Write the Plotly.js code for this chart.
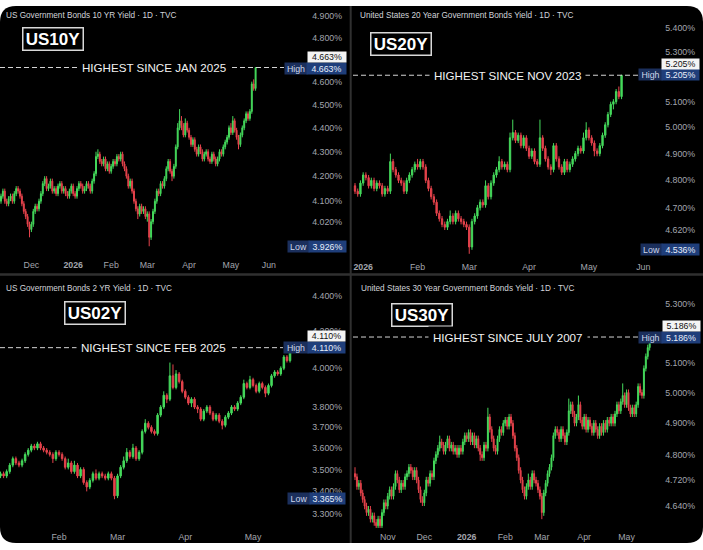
<!DOCTYPE html>
<html><head><meta charset="utf-8">
<script src="https://cdn.plot.ly/plotly-3.0.1.min.js"></script>
<style>html,body{margin:0;padding:0;background:#fff;}#chart{width:703px;height:550px;}</style>
</head><body><div id="chart"></div>
<script>
// ---------------- DATA ----------------
// US10Y (daily, from 2025-11-06)
const tl_start = '2025-11-06';
const tl_open = [4.10,4.12,4.14,4.10,4.09,4.11,4.12,4.10,4.13,4.15,4.14,4.12,4.09,4.06,4.04,4.01,3.99,4.01,4.06,4.08,4.07,4.10,4.13,4.17,4.19,4.15,4.16,4.18,4.14,4.15,4.13,4.16,4.17,4.14,4.15,4.13,4.12,4.14,4.16,4.13,4.12,4.15,4.17,4.16,4.14,4.15,4.17,4.16,4.14,4.18,4.21,4.28,4.29,4.26,4.25,4.27,4.23,4.25,4.22,4.24,4.26,4.25,4.28,4.27,4.29,4.25,4.23,4.20,4.16,4.18,4.14,4.10,4.07,4.05,4.08,4.06,4.07,4.04,4.05,3.96,4.02,4.06,4.10,4.14,4.13,4.17,4.16,4.19,4.23,4.26,4.22,4.20,4.24,4.32,4.40,4.43,4.41,4.37,4.42,4.39,4.36,4.33,4.35,4.31,4.29,4.32,4.30,4.27,4.29,4.30,4.27,4.26,4.29,4.27,4.25,4.27,4.30,4.29,4.32,4.34,4.36,4.40,4.38,4.43,4.39,4.36,4.33,4.37,4.40,4.43,4.46,4.44,4.47,4.59,4.57];
const tl_high = [4.13,4.15,4.15,4.11,4.12,4.13,4.13,4.14,4.16,4.16,4.15,4.13,4.10,4.07,4.05,4.02,4.02,4.07,4.09,4.09,4.11,4.14,4.18,4.20,4.20,4.17,4.19,4.19,4.16,4.16,4.17,4.18,4.18,4.16,4.16,4.14,4.15,4.17,4.17,4.14,4.16,4.18,4.18,4.17,4.16,4.18,4.18,4.17,4.19,4.22,4.30,4.31,4.30,4.27,4.28,4.28,4.26,4.26,4.25,4.27,4.27,4.29,4.29,4.30,4.30,4.26,4.24,4.21,4.19,4.19,4.15,4.11,4.08,4.09,4.09,4.08,4.08,4.06,4.06,4.03,4.07,4.11,4.15,4.15,4.18,4.18,4.20,4.24,4.27,4.27,4.23,4.25,4.33,4.42,4.48,4.45,4.42,4.44,4.43,4.40,4.37,4.36,4.36,4.32,4.33,4.33,4.31,4.30,4.31,4.31,4.28,4.30,4.30,4.28,4.28,4.31,4.31,4.33,4.35,4.37,4.41,4.42,4.45,4.44,4.40,4.37,4.38,4.41,4.44,4.47,4.47,4.48,4.60,4.61,4.663];
const tl_low = [4.09,4.11,4.09,4.08,4.08,4.10,4.09,4.09,4.12,4.13,4.11,4.08,4.05,4.03,4.00,3.96,3.98,4.00,4.05,4.06,4.06,4.09,4.12,4.16,4.14,4.14,4.15,4.13,4.13,4.12,4.12,4.15,4.13,4.13,4.12,4.11,4.11,4.13,4.12,4.11,4.11,4.14,4.15,4.13,4.13,4.14,4.15,4.13,4.13,4.17,4.20,4.27,4.25,4.24,4.24,4.22,4.22,4.21,4.21,4.23,4.24,4.24,4.26,4.26,4.24,4.22,4.19,4.15,4.15,4.13,4.09,4.06,4.03,4.04,4.05,4.05,4.03,4.02,3.926,3.95,4.01,4.05,4.09,4.12,4.12,4.15,4.15,4.18,4.22,4.21,4.18,4.19,4.23,4.31,4.39,4.39,4.36,4.36,4.38,4.35,4.32,4.32,4.30,4.28,4.28,4.29,4.26,4.26,4.28,4.26,4.25,4.25,4.26,4.24,4.24,4.26,4.28,4.28,4.31,4.33,4.35,4.37,4.37,4.38,4.35,4.31,4.32,4.36,4.39,4.42,4.43,4.43,4.46,4.56,4.56];
const tl_close = [4.12,4.14,4.10,4.09,4.11,4.12,4.10,4.13,4.15,4.14,4.12,4.09,4.06,4.04,4.01,3.99,4.01,4.06,4.08,4.07,4.10,4.13,4.17,4.19,4.15,4.16,4.18,4.14,4.15,4.13,4.16,4.17,4.14,4.15,4.13,4.12,4.14,4.16,4.13,4.12,4.15,4.17,4.16,4.14,4.15,4.17,4.16,4.14,4.18,4.21,4.28,4.29,4.26,4.25,4.27,4.23,4.25,4.22,4.24,4.26,4.25,4.28,4.27,4.29,4.25,4.23,4.20,4.16,4.18,4.14,4.10,4.07,4.05,4.08,4.06,4.07,4.04,4.05,3.96,4.02,4.06,4.10,4.14,4.13,4.17,4.16,4.19,4.23,4.26,4.22,4.20,4.24,4.32,4.40,4.43,4.41,4.37,4.42,4.39,4.36,4.33,4.35,4.31,4.29,4.32,4.30,4.27,4.29,4.30,4.27,4.26,4.29,4.27,4.25,4.27,4.30,4.29,4.32,4.34,4.36,4.40,4.38,4.43,4.39,4.36,4.33,4.37,4.40,4.43,4.46,4.44,4.47,4.59,4.57,4.663];
const tl_tick_dates = ['2025-12-01','2026-01-02','2026-02-02','2026-03-02','2026-04-01','2026-05-01','2026-06-01'];
const tl_tick_text = ['Dec','<b>2026</b>','Feb','Mar','Apr','May','Jun'];
const tl_y_ticks = [4.9,4.8,4.6,4.5,4.4,4.3,4.2,4.1,4.02];

// US20Y (daily, from 2025-12-29)
const tr_start = '2025-12-29';
const tr_open = [4.78,4.76,4.75,4.79,4.82,4.81,4.78,4.80,4.77,4.79,4.78,4.75,4.77,4.76,4.87,4.84,4.82,4.80,4.79,4.76,4.80,4.82,4.84,4.86,4.85,4.87,4.85,4.80,4.77,4.74,4.72,4.68,4.66,4.64,4.63,4.65,4.67,4.65,4.68,4.66,4.65,4.64,4.63,4.56,4.65,4.67,4.70,4.72,4.71,4.78,4.74,4.79,4.82,4.84,4.87,4.85,4.86,4.84,4.96,4.98,4.95,4.97,4.93,4.96,4.92,4.89,4.91,4.87,4.86,4.96,4.92,4.88,4.85,4.84,4.93,4.88,4.85,4.83,4.87,4.84,4.86,4.88,4.90,4.92,4.91,4.96,4.99,4.96,4.94,4.91,4.90,4.93,4.97,5.01,5.05,5.09,5.10,5.14,5.12];
const tr_high = [4.79,4.77,4.80,4.83,4.83,4.82,4.81,4.81,4.80,4.80,4.79,4.78,4.78,4.90,4.88,4.85,4.83,4.81,4.80,4.81,4.83,4.85,4.87,4.88,4.88,4.88,4.86,4.81,4.78,4.75,4.73,4.69,4.67,4.65,4.66,4.69,4.68,4.69,4.69,4.67,4.66,4.65,4.64,4.66,4.68,4.71,4.73,4.73,4.80,4.79,4.80,4.83,4.85,4.89,4.88,4.87,4.87,4.98,5.03,4.99,4.98,4.98,4.97,4.97,4.93,4.92,4.92,4.88,5.03,4.97,4.93,4.89,4.86,4.94,4.94,4.89,4.86,4.88,4.88,4.87,4.89,4.91,4.93,4.93,4.98,5.02,5.00,4.97,4.95,4.92,4.94,4.98,5.02,5.06,5.10,5.11,5.15,5.16,5.205];
const tr_low = [4.75,4.74,4.74,4.78,4.80,4.77,4.77,4.76,4.76,4.77,4.74,4.74,4.75,4.75,4.83,4.81,4.79,4.78,4.75,4.75,4.79,4.81,4.83,4.84,4.84,4.84,4.79,4.76,4.73,4.71,4.67,4.65,4.63,4.62,4.62,4.64,4.64,4.64,4.65,4.64,4.63,4.62,4.536,4.55,4.64,4.66,4.69,4.70,4.70,4.73,4.73,4.78,4.81,4.83,4.84,4.84,4.83,4.83,4.95,4.94,4.94,4.92,4.92,4.91,4.88,4.88,4.86,4.85,4.85,4.91,4.87,4.84,4.82,4.83,4.87,4.84,4.82,4.82,4.83,4.83,4.85,4.87,4.89,4.90,4.90,4.95,4.95,4.93,4.89,4.89,4.89,4.92,4.96,5.00,5.04,5.07,5.09,5.11,5.11];
const tr_close = [4.76,4.75,4.79,4.82,4.81,4.78,4.80,4.77,4.79,4.78,4.75,4.77,4.76,4.87,4.84,4.82,4.80,4.79,4.76,4.80,4.82,4.84,4.86,4.85,4.87,4.85,4.80,4.77,4.74,4.72,4.68,4.66,4.64,4.63,4.65,4.67,4.65,4.68,4.66,4.65,4.64,4.63,4.56,4.65,4.67,4.70,4.72,4.71,4.78,4.74,4.79,4.82,4.84,4.87,4.85,4.86,4.84,4.96,4.98,4.95,4.97,4.93,4.96,4.92,4.89,4.91,4.87,4.86,4.96,4.92,4.88,4.85,4.84,4.93,4.88,4.85,4.83,4.87,4.84,4.86,4.88,4.90,4.92,4.91,4.96,4.99,4.96,4.94,4.91,4.90,4.93,4.97,5.01,5.05,5.09,5.10,5.14,5.12,5.205];
const tr_tick_dates = ['2026-01-02','2026-02-02','2026-03-02','2026-04-01','2026-05-01','2026-06-01'];
const tr_tick_text = ['<b>2026</b>','Feb','Mar','Apr','May','Jun'];
const tr_y_ticks = [5.4,5.3,5.1,5.0,4.9,4.8,4.7,4.62];

// US02Y (daily, from 2026-01-05)
const bl_start = '2026-01-05';
const bl_open = [3.47,3.48,3.47,3.49,3.52,3.55,3.53,3.52,3.54,3.57,3.59,3.61,3.60,3.62,3.60,3.59,3.58,3.57,3.55,3.58,3.57,3.55,3.51,3.53,3.49,3.52,3.47,3.50,3.44,3.42,3.45,3.48,3.46,3.48,3.47,3.46,3.48,3.46,3.38,3.47,3.51,3.54,3.58,3.56,3.60,3.55,3.58,3.68,3.72,3.70,3.68,3.67,3.76,3.80,3.86,3.84,3.96,3.90,3.97,3.93,3.88,3.85,3.82,3.84,3.80,3.79,3.74,3.78,3.80,3.77,3.74,3.76,3.73,3.71,3.75,3.77,3.80,3.79,3.82,3.85,3.92,3.90,3.94,3.91,3.88,3.92,3.90,3.87,3.91,3.96,3.98,3.97,4.00,4.06,4.04];
const bl_high = [3.49,3.49,3.50,3.53,3.56,3.56,3.54,3.55,3.58,3.60,3.62,3.62,3.63,3.63,3.61,3.60,3.59,3.58,3.59,3.59,3.58,3.56,3.55,3.54,3.54,3.53,3.51,3.51,3.45,3.46,3.49,3.50,3.49,3.49,3.48,3.49,3.49,3.47,3.48,3.52,3.56,3.60,3.59,3.62,3.61,3.59,3.69,3.74,3.73,3.71,3.69,3.77,3.81,3.88,3.87,4.03,4.02,3.99,3.98,3.94,3.89,3.86,3.85,3.85,3.81,3.80,3.79,3.81,3.81,3.78,3.77,3.77,3.74,3.76,3.78,3.81,3.81,3.83,3.86,3.94,3.93,3.96,3.95,3.92,3.93,3.93,3.91,3.92,3.97,3.99,3.99,4.01,4.07,4.07,4.11];
const bl_low = [3.46,3.46,3.46,3.48,3.51,3.52,3.51,3.51,3.53,3.56,3.58,3.59,3.59,3.59,3.58,3.57,3.56,3.53,3.54,3.56,3.54,3.50,3.50,3.48,3.48,3.46,3.46,3.43,3.40,3.41,3.44,3.45,3.45,3.46,3.45,3.45,3.45,3.365,3.37,3.46,3.50,3.53,3.55,3.55,3.54,3.54,3.57,3.67,3.69,3.67,3.66,3.66,3.75,3.79,3.82,3.83,3.89,3.89,3.92,3.87,3.84,3.81,3.80,3.79,3.77,3.73,3.73,3.77,3.76,3.73,3.73,3.72,3.69,3.70,3.74,3.76,3.78,3.78,3.81,3.84,3.89,3.89,3.90,3.87,3.87,3.89,3.85,3.86,3.90,3.95,3.96,3.96,3.99,4.03,4.03];
const bl_close = [3.48,3.47,3.49,3.52,3.55,3.53,3.52,3.54,3.57,3.59,3.61,3.60,3.62,3.60,3.59,3.58,3.57,3.55,3.58,3.57,3.55,3.51,3.53,3.49,3.52,3.47,3.50,3.44,3.42,3.45,3.48,3.46,3.48,3.47,3.46,3.48,3.46,3.38,3.47,3.51,3.54,3.58,3.56,3.60,3.55,3.58,3.68,3.72,3.70,3.68,3.67,3.76,3.80,3.86,3.84,3.96,3.90,3.97,3.93,3.88,3.85,3.82,3.84,3.80,3.79,3.74,3.78,3.80,3.77,3.74,3.76,3.73,3.71,3.75,3.77,3.80,3.79,3.82,3.85,3.92,3.90,3.94,3.91,3.88,3.92,3.90,3.87,3.91,3.96,3.98,3.97,4.00,4.06,4.04,4.11];
const bl_tick_dates = ['2026-02-02','2026-03-02','2026-04-01','2026-05-01'];
const bl_tick_text = ['Feb','Mar','Apr','May'];
const bl_y_ticks = [4.4,4.2,4.0,3.8,3.7,3.6,3.5,3.4,3.3];

// US30Y (daily, from 2025-10-09)
const br_start = '2025-10-09';
const br_open = [4.74,4.73,4.70,4.71,4.68,4.66,4.64,4.62,4.63,4.60,4.61,4.59,4.58,4.60,4.58,4.62,4.65,4.64,4.67,4.69,4.67,4.70,4.74,4.72,4.69,4.71,4.70,4.73,4.74,4.76,4.75,4.73,4.75,4.72,4.69,4.66,4.65,4.68,4.72,4.71,4.74,4.73,4.78,4.80,4.82,4.84,4.83,4.81,4.83,4.85,4.82,4.83,4.81,4.82,4.80,4.82,4.81,4.84,4.86,4.85,4.87,4.84,4.86,4.83,4.85,4.82,4.80,4.79,4.83,4.82,4.92,4.88,4.85,4.82,4.81,4.85,4.88,4.87,4.90,4.91,4.89,4.92,4.90,4.86,4.82,4.79,4.75,4.72,4.69,4.67,4.70,4.72,4.70,4.74,4.72,4.71,4.69,4.67,4.62,4.68,4.71,4.74,4.76,4.79,4.86,4.88,4.87,4.85,4.88,4.86,4.84,4.87,4.94,4.96,4.93,4.90,4.92,4.96,4.91,4.89,4.92,4.88,4.91,4.89,4.87,4.90,4.88,4.86,4.89,4.87,4.90,4.88,4.91,4.90,4.92,4.90,4.93,4.96,4.94,4.97,4.99,4.96,5.00,4.95,4.93,4.95,4.93,4.96,5.02,5.00,4.99,5.08,5.12,5.15];
const br_high = [4.76,4.74,4.72,4.72,4.69,4.67,4.65,4.64,4.64,4.62,4.62,4.60,4.61,4.61,4.63,4.66,4.66,4.68,4.70,4.70,4.71,4.75,4.75,4.73,4.72,4.72,4.74,4.75,4.77,4.77,4.76,4.76,4.76,4.73,4.70,4.67,4.69,4.73,4.73,4.75,4.75,4.79,4.81,4.83,4.86,4.85,4.84,4.84,4.86,4.86,4.84,4.84,4.83,4.83,4.83,4.83,4.85,4.87,4.87,4.88,4.88,4.87,4.87,4.86,4.86,4.83,4.81,4.84,4.84,4.95,4.93,4.89,4.86,4.83,4.86,4.89,4.89,4.91,4.92,4.92,4.93,4.93,4.91,4.87,4.83,4.80,4.76,4.73,4.70,4.71,4.74,4.73,4.75,4.75,4.73,4.72,4.70,4.68,4.69,4.72,4.75,4.77,4.80,4.87,4.89,4.89,4.88,4.89,4.89,4.87,4.88,4.98,4.97,4.97,4.94,4.93,4.99,4.97,4.92,4.93,4.93,4.92,4.92,4.90,4.91,4.91,4.89,4.90,4.90,4.91,4.91,4.92,4.92,4.93,4.93,4.94,4.97,4.97,4.98,5.03,5.00,5.01,5.01,4.96,4.96,4.96,4.97,5.03,5.03,5.01,5.09,5.13,5.16,5.186];
const br_low = [4.72,4.69,4.69,4.67,4.65,4.63,4.61,4.61,4.59,4.59,4.58,4.57,4.57,4.57,4.57,4.61,4.63,4.63,4.66,4.66,4.66,4.69,4.71,4.68,4.68,4.69,4.69,4.72,4.73,4.74,4.72,4.72,4.71,4.68,4.65,4.64,4.64,4.67,4.70,4.70,4.72,4.72,4.77,4.79,4.81,4.82,4.80,4.80,4.82,4.81,4.81,4.80,4.80,4.79,4.79,4.80,4.80,4.83,4.84,4.84,4.83,4.83,4.82,4.82,4.81,4.78,4.78,4.78,4.81,4.81,4.87,4.84,4.81,4.80,4.80,4.84,4.86,4.86,4.89,4.88,4.88,4.89,4.85,4.81,4.78,4.74,4.71,4.68,4.66,4.66,4.69,4.69,4.69,4.71,4.70,4.68,4.66,4.60,4.61,4.67,4.70,4.73,4.75,4.78,4.85,4.86,4.84,4.84,4.85,4.83,4.83,4.86,4.93,4.92,4.89,4.89,4.91,4.90,4.88,4.88,4.87,4.87,4.88,4.86,4.86,4.87,4.85,4.85,4.86,4.86,4.87,4.87,4.89,4.89,4.89,4.89,4.92,4.93,4.93,4.96,4.95,4.95,4.94,4.92,4.92,4.92,4.92,4.95,4.99,4.98,4.98,5.07,5.11,5.14];
const br_close = [4.73,4.70,4.71,4.68,4.66,4.64,4.62,4.63,4.60,4.61,4.59,4.58,4.60,4.58,4.62,4.65,4.64,4.67,4.69,4.67,4.70,4.74,4.72,4.69,4.71,4.70,4.73,4.74,4.76,4.75,4.73,4.75,4.72,4.69,4.66,4.65,4.68,4.72,4.71,4.74,4.73,4.78,4.80,4.82,4.84,4.83,4.81,4.83,4.85,4.82,4.83,4.81,4.82,4.80,4.82,4.81,4.84,4.86,4.85,4.87,4.84,4.86,4.83,4.85,4.82,4.80,4.79,4.83,4.82,4.92,4.88,4.85,4.82,4.81,4.85,4.88,4.87,4.90,4.91,4.89,4.92,4.90,4.86,4.82,4.79,4.75,4.72,4.69,4.67,4.70,4.72,4.70,4.74,4.72,4.71,4.69,4.67,4.62,4.68,4.71,4.74,4.76,4.79,4.86,4.88,4.87,4.85,4.88,4.86,4.84,4.87,4.94,4.96,4.93,4.90,4.92,4.96,4.91,4.89,4.92,4.88,4.91,4.89,4.87,4.90,4.88,4.86,4.89,4.87,4.90,4.88,4.91,4.90,4.92,4.90,4.93,4.96,4.94,4.97,4.99,4.96,5.00,4.95,4.93,4.95,4.93,4.96,5.02,5.00,4.99,5.08,5.12,5.15,5.186];
const br_tick_dates = ['2025-11-03','2025-12-01','2026-01-02','2026-02-02','2026-03-02','2026-04-01','2026-05-01'];
const br_tick_text = ['Nov','Dec','<b>2026</b>','Feb','Mar','Apr','May'];
const br_y_ticks = [5.3,5.1,5.0,4.9,4.8,4.72,4.64];

const HOLIDAYS = ['2025-11-27','2025-12-25','2026-01-01','2026-01-19','2026-02-16','2026-05-25'];

// ---------------- HELPERS ----------------
const W = 703, H = 550;
const px = x => x / W;
const py = y => 1 - y / H;
const GREEN = '#45da5c', RED = '#e6434c';
const FONT = 'Liberation Sans, Arial, sans-serif';
const AXC = '#a2a5ad';

function tradingDays(start, n) {
  const out = [];
  const d = new Date(start + 'T00:00:00Z');
  while (out.length < n) {
    const dow = d.getUTCDay();
    const s = d.toISOString().slice(0, 10);
    if (dow !== 0 && dow !== 6 && !HOLIDAYS.includes(s)) out.push(s);
    d.setUTCDate(d.getUTCDate() + 1);
  }
  return out;
}
const pct = v => v.toFixed(3) + '%';

const panels = [
  {k:'', name:'US10Y', title:'US Government Bonds 10 YR Yield · 1D · TVC', note:'HIGHEST SINCE JAN 2025',
   start:tl_start, o:tl_open, h:tl_high, l:tl_low, c:tl_close, td:tl_tick_dates, tt:tl_tick_text, yt:tl_y_ticks,
   g:{L:0,R:350,T:8,B:256,first:1,step:1.9,refV:4.9,refPy:16,kk:2392.4},
   titlePos:[4,16], box:[52.5,38.5], noteX:153.5, lineX:[0,284],
   hi:{x:284,wl:22,wv:39,y:68.5}, last:{x:307,w:38,y:57.5}, lo:{x:287,wl:21,wv:37,y:246.5}},
  {k:'2', name:'US20Y', title:'United States 20 Year Government Bonds Yield · 1D · TVC', note:'HIGHEST SINCE NOV 2023',
   start:tr_start, o:tr_open, h:tr_high, l:tr_low, c:tr_close, td:tr_tick_dates, tt:tr_tick_text, yt:tr_y_ticks,
   g:{L:353,R:703,T:8,B:258,first:355,step:2.72,refV:5.4,refPy:27.5,kk:2988.8},
   titlePos:[358,16], box:[400.5,43.5], noteX:507.5, lineX:[353,638],
   hi:{x:638,wl:23,wv:37,y:74.7}, last:{x:661,w:37,y:63.5}, lo:{x:640,wl:21,wv:37,y:249.5}},
  {k:'3', name:'US02Y', title:'US Government Bonds 2 YR Yield · 1D · TVC', note:'NIGHEST SINCE FEB 2025',
   start:bl_start, o:bl_open, h:bl_high, l:bl_low, c:bl_close, td:bl_tick_dates, tt:bl_tick_text, yt:bl_y_ticks,
   g:{L:0,R:350,T:280,B:528,first:0.5,step:3.08,refV:4.4,refPy:296,kk:1744.9},
   titlePos:[4,288], box:[94.5,312.5], noteX:153.5, lineX:[0,283],
   hi:{x:283,wl:24,wv:37,y:347}, last:{x:307,w:37,y:336}, lo:{x:287,wl:22,wv:35,y:498.5}},
  {k:'4', name:'US30Y', title:'United States 30 Year Government Bonds Yield · 1D · TVC', note:'HIGHEST SINCE JULY 2007',
   start:br_start, o:br_open, h:br_high, l:br_low, c:br_close, td:br_tick_dates, tt:br_tick_text, yt:br_y_ticks,
   g:{L:353,R:703,T:280,B:528,first:355,step:1.926,refV:5.3,refPy:304,kk:3497.6},
   titlePos:[359,288], box:[421.5,315], noteX:507.5, lineX:[353,638],
   hi:{x:638,wl:23,wv:38,y:337.5}, last:{x:662,w:37,y:325.5}, lo:null}
];

const traces = [];
const layout = {
  width: W, height: H, margin: {l:0, r:0, t:0, b:0},
  paper_bgcolor: '#ffffff', plot_bgcolor: 'rgba(0,0,0,0)',
  showlegend: false, dragmode: false, hovermode: false,
  font: {family: FONT, color: AXC},
  shapes: [], annotations: []
};

// black rounded background
const RAD = 16, BG_TOP = 6, BG_BOT = 543;
layout.shapes.push({
  type:'path', xref:'paper', yref:'paper', layer:'below', fillcolor:'#000000', line:{width:0},
  path:`M ${px(0)},${py(BG_TOP+RAD)} Q ${px(0)},${py(BG_TOP)} ${px(RAD)},${py(BG_TOP)} L ${px(W-RAD)},${py(BG_TOP)} Q ${px(W)},${py(BG_TOP)} ${px(W)},${py(BG_TOP+RAD)} L ${px(W)},${py(BG_BOT-RAD)} Q ${px(W)},${py(BG_BOT)} ${px(W-RAD)},${py(BG_BOT)} L ${px(RAD)},${py(BG_BOT)} Q ${px(0)},${py(BG_BOT)} ${px(0)},${py(BG_BOT-RAD)} Z`
});
layout.shapes.push({type:'line', xref:'paper', yref:'paper', layer:'below', x0:px(350.7), x1:px(350.7), y0:py(BG_TOP), y1:py(BG_BOT), line:{color:'#303030', width:2}});
layout.shapes.push({type:'line', xref:'paper', yref:'paper', layer:'below', x0:px(0), x1:px(W), y0:py(274.6), y1:py(274.6), line:{color:'#303030', width:2.5}});

panels.forEach(p => {
  const g = p.g;
  const days = tradingDays(p.start, p.c.length + 70);
  const x = p.c.map((_, i) => i);
  const tickvals = p.td.map(d => days.indexOf(d));
  const xa = 'xaxis' + p.k, ya = 'yaxis' + p.k;
  const xr = 'x' + p.k, yr = 'y' + p.k;
  const hiV = Math.max(...p.h), loV = Math.min(...p.l), lastV = p.c[p.c.length-1];
  const x0 = (g.L - g.first)/g.step, x1 = (g.R - g.first)/g.step;

  traces.push({
    type:'scatter', mode:'lines', xaxis:xr, yaxis:yr, hoverinfo:'skip',
    x:[x0, (p.lineX[1] - g.first)/g.step], y:[hiV, hiV],
    line:{color:'#d4d4d4', width:1, dash:'5px,3px'}
  });
  traces.push({
    type:'candlestick', x:x, open:p.o, high:p.h, low:p.l, close:p.c,
    xaxis:xr, yaxis:yr, hoverinfo:'skip', whiskerwidth:0,
    increasing:{line:{color:GREEN, width:1}, fillcolor:GREEN},
    decreasing:{line:{color:RED, width:1}, fillcolor:RED}
  });

  const lv = Math.log10(g.refV);
  layout[xa] = {
    domain:[px(g.L), px(g.R)], anchor:yr, range:[x0, x1],
    showgrid:false, zeroline:false, showline:false, ticks:'', ticklabelstandoff:2,
    tickvals:tickvals, ticktext:p.tt, tickfont:{size:8.8, color:AXC, family:FONT},
    rangeslider:{visible:false}, fixedrange:true
  };
  layout[ya] = {
    domain:[py(g.B), py(g.T)], anchor:xr, type:'log', side:'right',
    range:[lv - (g.B - g.refPy)/g.kk, lv + (g.refPy - g.T)/g.kk],
    ticklabelposition:'inside', ticklabelstandoff:5, ticks:'', showgrid:false, zeroline:false, showline:false,
    tickvals:p.yt, ticktext:p.yt.map(pct), tickfont:{size:8.8, color:AXC, family:FONT}, fixedrange:true
  };

  const A = layout.annotations;
  A.push({xref:'paper', yref:'paper', x:px(p.titlePos[0]), y:py(p.titlePos[1]), xanchor:'left', yanchor:'middle',
    text:p.title, showarrow:false, font:{size:8.2, color:'#d2d4da', family:FONT}});
  A.push({xref:'paper', yref:'paper', x:px(p.box[0]), y:py(p.box[1]), xanchor:'center', yanchor:'middle',
    text:'<b>'+p.name+'</b>', showarrow:false, width:57, height:19, borderpad:1,
    bgcolor:'#000', bordercolor:'#d8d8d8', borderwidth:1.5, font:{size:17, color:'#ffffff', family:FONT}});
  A.push({xref:'paper', yref:yr, x:px(p.noteX), y:Math.log10(hiV), xanchor:'center', yanchor:'middle',
    text:p.note, showarrow:false, bgcolor:'#000', borderpad:4, font:{size:11.6, color:'#f2f2f2', family:FONT}});
  A.push({xref:'paper', yref:'paper', x:px(p.hi.x), y:py(p.hi.y), xanchor:'left', yanchor:'middle',
    text:'High', showarrow:false, width:p.hi.wl, height:11, borderpad:0, bgcolor:'#1b2f5c', font:{size:8.8, color:'#cdd6ea', family:FONT}});
  A.push({xref:'paper', yref:'paper', x:px(p.hi.x + p.hi.wl), y:py(p.hi.y), xanchor:'left', yanchor:'middle',
    text:pct(hiV), showarrow:false, width:p.hi.wv, height:11, borderpad:0, bgcolor:'#1f3e7a', font:{size:8.8, color:'#e8eefb', family:FONT}});
  A.push({xref:'paper', yref:'paper', x:px(p.last.x), y:py(p.last.y), xanchor:'left', yanchor:'middle',
    text:pct(lastV), showarrow:false, width:p.last.w, height:10, borderpad:0, bgcolor:'#f4f4f4', font:{size:8.8, color:'#111111', family:FONT}});
  if (p.lo) {
    A.push({xref:'paper', yref:'paper', x:px(p.lo.x), y:py(p.lo.y), xanchor:'left', yanchor:'middle',
      text:'Low', showarrow:false, width:p.lo.wl, height:11, borderpad:0, bgcolor:'#1b2f5c', font:{size:8.8, color:'#cdd6ea', family:FONT}});
    A.push({xref:'paper', yref:'paper', x:px(p.lo.x + p.lo.wl), y:py(p.lo.y), xanchor:'left', yanchor:'middle',
      text:pct(loV), showarrow:false, width:p.lo.wv, height:11, borderpad:0, bgcolor:'#1f3e7a', font:{size:8.8, color:'#e8eefb', family:FONT}});
  }
});

Plotly.newPlot('chart', traces, layout, {staticPlot:true, displayModeBar:false});
</script></body></html>
